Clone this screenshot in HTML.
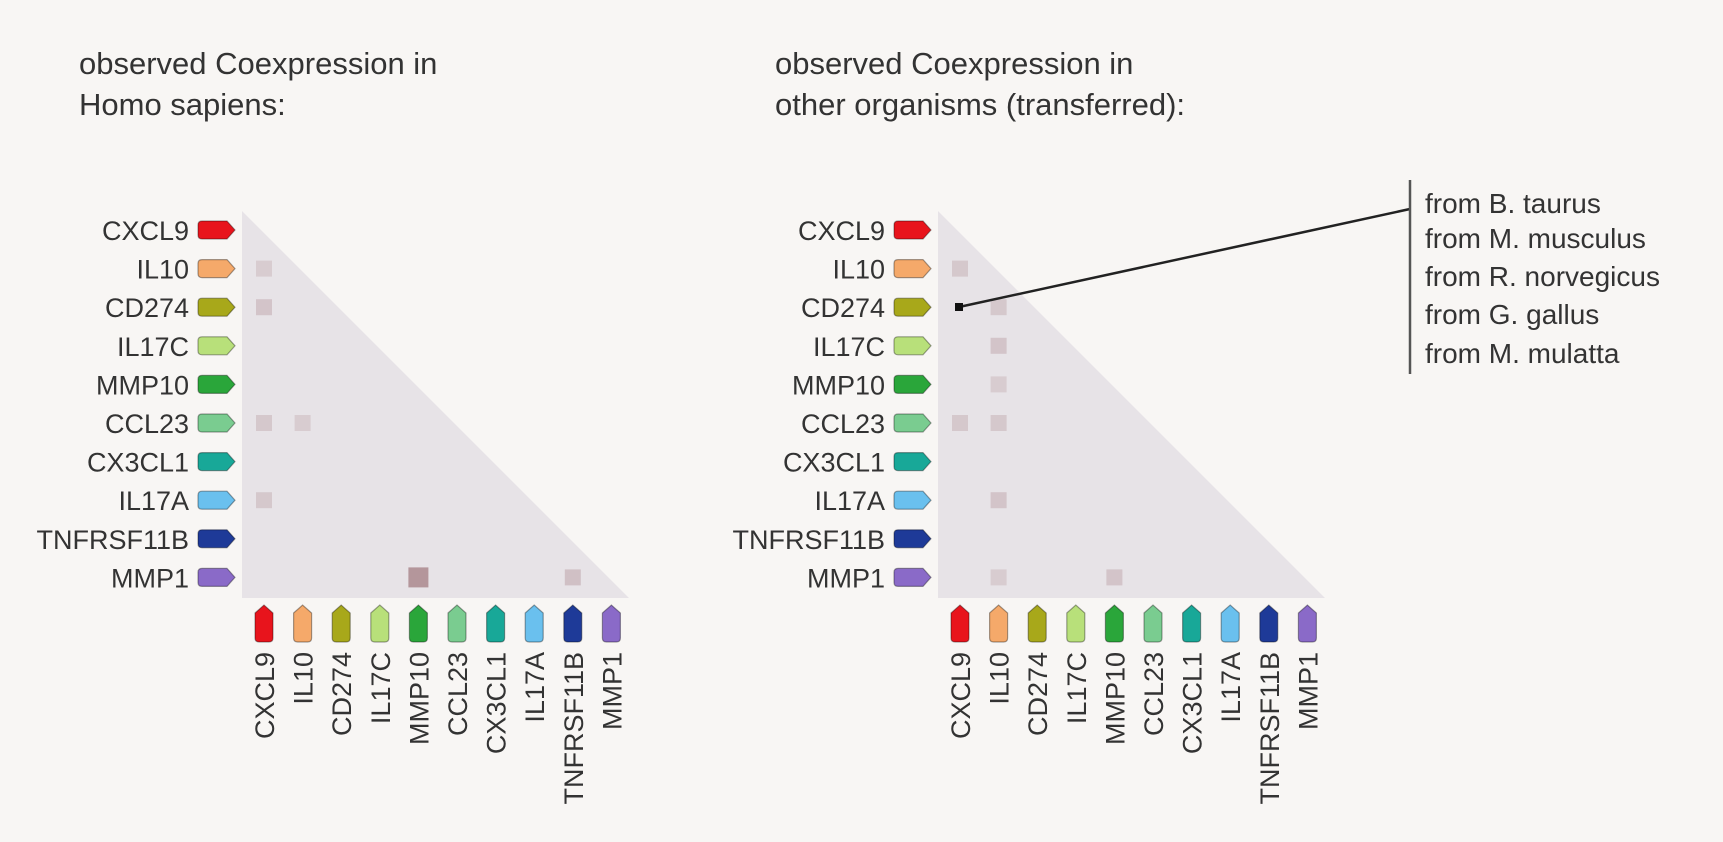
<!DOCTYPE html>
<html><head><meta charset="utf-8"><style>
body{margin:0;background:#f8f6f4;width:1723px;height:837px;overflow:hidden;font-family:"Liberation Sans",sans-serif;}
</style></head><body>
<svg id="chart" width="1723" height="837" xmlns="http://www.w3.org/2000/svg">
<rect width="1723" height="837" fill="#f8f6f4"/>
<g font-size="31" fill="#333">
<text x="79" y="74">observed Coexpression in</text>
<text x="79" y="115">Homo sapiens:</text>
<text x="775" y="74">observed Coexpression in</text>
<text x="775" y="115">other organisms (transferred):</text>
</g>
<g id="legend">
<line x1="959" y1="307" x2="1410" y2="209" stroke="#222" stroke-width="2.5"/>
<rect x="955" y="303" width="8" height="8" fill="#111"/>
<line x1="1410" y1="180" x2="1410" y2="374" stroke="#555" stroke-width="2.5"/>
<g font-size="28" fill="#333">
<text x="1425" y="213">from B. taurus</text>
<text x="1425" y="248">from M. musculus</text>
<text x="1425" y="286">from R. norvegicus</text>
<text x="1425" y="324">from G. gallus</text>
<text x="1425" y="363">from M. mulatta</text>
</g></g>
</svg>
<script>
const genes=["CXCL9","IL10","CD274","IL17C","MMP10","CCL23","CX3CL1","IL17A","TNFRSF11B","MMP1"];
const geneColors=["#e8141c","#f5a96a","#a8a81a","#b8e07a","#2aa63a","#7acc90","#18a898","#6ac0ee","#1e3a98","#8a6ac8"];
// [row, col, strength]
const humanCells=[[1,0,0.3],[2,0,0.4],[5,0,0.35],[5,1,0.3],[7,0,0.35],[9,4,1],[9,8,0.45]];
const otherCells=[[1,0,0.35],[2,1,0.35],[3,1,0.4],[4,1,0.3],[5,0,0.35],[5,1,0.35],[7,1,0.4],[9,1,0.3],[9,4,0.4]];
const NS="http://www.w3.org/2000/svg";
const svg=document.getElementById('chart');
const legendG=document.getElementById('legend');
const step=38.6, rowY0=230, colX0=264;
function rowY(i){return rowY0+i*step;}
function mk(t,a,p){const e=document.createElementNS(NS,t);for(const k in a)e.setAttribute(k,a[k]);(p||svg).appendChild(e);return e;}
function panel(off,cells,name){
  const g=mk('g',{});
  
  
  const L=242+off,T=211,B=598,R=629+off;
  const tri=mk('polygon',{points:`${L},${T} ${L},${B} ${R},${B}`,fill:'#e7e3e7'},g);
  
  
  const colX=i=>colX0+off+i*step;
  genes.forEach((gname,i)=>{
    const y=rowY(i);
    const t=mk('text',{x:189+off,y:y+10,'text-anchor':'end','font-size':27,fill:'#333'},g);
    t.textContent=gname;
    
    
    const x0=198+off,w=37,h=18;
    const a=mk('path',{d:`M${x0+4},${y-h/2} H${x0+w-8} L${x0+w},${y} L${x0+w-8},${y+h/2} H${x0+4} Q${x0},${y+h/2} ${x0},${y+h/2-4} V${y-h/2+4} Q${x0},${y-h/2} ${x0+4},${y-h/2} Z`,fill:geneColors[i],stroke:'rgba(0,0,0,0.35)','stroke-width':1.2},g);
    
    
    const cx=colX(i),yt=605,yb=642,hw=9;
    const b=mk('path',{d:`M${cx-hw},${yt+8} L${cx},${yt} L${cx+hw},${yt+8} V${yb-4} Q${cx+hw},${yb} ${cx+hw-4},${yb} H${cx-hw+4} Q${cx-hw},${yb} ${cx-hw},${yb-4} Z`,fill:geneColors[i],stroke:'rgba(0,0,0,0.35)','stroke-width':1.2},g);
    
    
    const ct=mk('text',{x:cx+10,y:652,'text-anchor':'end','font-size':27,fill:'#333',transform:`rotate(-90 ${cx+10} 652)`},g);
    ct.textContent=gname;
    
    
  });
  cells.forEach(c=>{
    const s=c[2],sz=s>0.8?20:16;
    const r=Math.round(231-(231-180)*s),gg=Math.round(227-(227-150)*s),bb=Math.round(231-(231-155)*s);
    const cell=mk('rect',{x:colX(c[1])-sz/2,y:rowY(c[0])-sz/2,width:sz,height:sz,fill:`rgb(${r},${gg},${bb})`},g);
    
    
  });
}
panel(0,humanCells,'human-matrix');
panel(696,otherCells,'other-organisms-matrix');
svg.appendChild(legendG);
</script>
</body></html>
